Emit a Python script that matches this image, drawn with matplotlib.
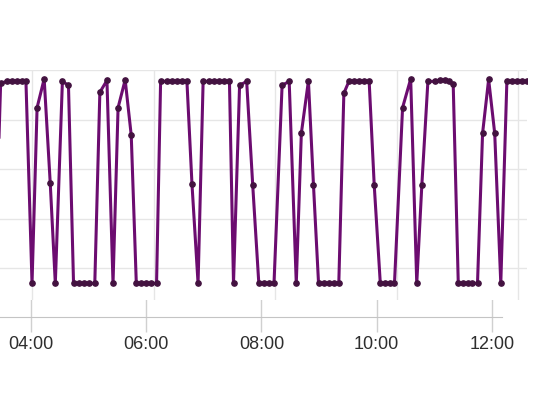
import matplotlib
matplotlib.use('Agg')
import numpy as np
from matplotlib import pyplot as plt

# readings (time of day, value)
times = ['03:23', '03:29', '03:35', '03:40', '03:45', '03:50', '03:54',
         '04:00', '04:05', '04:12', '04:18', '04:23', '04:30', '04:36',
         '04:41', '04:46', '04:51', '04:56', '05:02', '05:07', '05:14',
         '05:20', '05:25', '05:32', '05:38', '05:43', '05:48', '05:53',
         '05:58', '06:03', '06:07', '06:13', '06:18', '06:23', '06:28',
         '06:33', '06:38', '06:44', '06:49', '06:55', '07:00', '07:05',
         '07:10', '07:15', '07:19', '07:25', '07:32', '07:38', '07:44',
         '07:49', '07:54', '07:59', '08:07', '08:14', '08:21', '08:26',
         '08:33', '08:38', '08:43', '08:48', '08:53', '08:58', '09:03',
         '09:08', '09:13', '09:18', '09:23', '09:28', '09:33', '09:38',
         '09:44', '09:49', '09:54', '09:58', '10:06', '10:14', '10:20',
         '10:25', '10:31', '10:38', '10:43', '10:48', '10:52', '10:56',
         '11:01', '11:06', '11:11', '11:15', '11:20', '11:25', '11:31',
         '11:37', '11:43', '11:49', '11:54', '11:59', '12:04', '12:09']
values = [0.70, 4.73, 4.77, 4.77, 4.77, 4.77, 4.77,
          0.69, 4.24, 4.82, 2.71, 0.69, 4.77, 4.69,
          0.69, 0.69, 0.69, 0.69, 0.69, 4.55, 4.79,
          0.69, 4.24, 4.80, 3.68, 0.69, 0.69, 0.69,
          0.69, 0.69, 4.77, 4.77, 4.77, 4.77, 4.77,
          4.77, 2.69, 0.69, 4.77, 4.77, 4.77, 4.77,
          4.77, 4.77, 0.69, 4.69, 4.77, 2.67, 0.69,
          0.69, 0.69, 0.69, 4.69, 4.77, 0.69, 3.72,
          4.78, 2.67, 0.69, 0.69, 0.69, 0.69, 0.69,
          4.53, 4.77, 4.77, 4.77, 4.77, 4.77, 2.67,
          0.69, 0.69, 0.69, 0.69, 4.24, 4.82, 0.69,
          2.67, 4.77, 4.77, 4.79, 4.79, 4.77, 4.71,
          0.69, 0.69, 0.69, 0.69, 0.69, 3.72, 4.81,
          3.72, 0.69, 4.77, 4.77, 4.77, 4.77, 4.77]
tick_hours = [4, 6, 8, 10, 12]
tick_labels = ['04:00', '06:00', '08:00', '10:00', '12:00']

hours = np.array([int(t[:2]) + int(t[3:]) / 60 for t in times])

W, H = 550, 412
fig = plt.figure(figsize=(5.5, 4.12), dpi=100)

#plot area (graph panel)
ax = fig.add_axes([-10.5 / W, (H - 300) / H, 537.5 / W, 230 / H])
ax.set_xlim(3.3, 4 + (527 - 32) / 60.75)
ax.set_ylim(0.354, 5.0)
ax.set_xticks(tick_hours)
ax.set_yticks([1, 2, 3, 4, 5])
ax.grid(True, color='#e6e6e6', linewidth=1)
ax.tick_params(length=0, labelbottom=False, labelleft=False)
for s in ax.spines.values():
    s.set_visible(False)
ax.set_axisbelow(True)
ax.plot(hours, values, color='#6c0c70', linewidth=2.2, marker='o',
        markersize=3.8, markerfacecolor='#431240', markeredgecolor='#431240',
        solid_joinstyle='miter')

#x axis strip (slightly different scale, like the original)
ax2 = fig.add_axes([-20 / W, (H - 317) / H, 522 / W, 17 / H])
ax2.patch.set_alpha(0)
ax2.set_xlim(4 + (-20 - 31) / 57.6, 4 + (502 - 31) / 57.6)
ax2.set_ylim(0, 1)
ax2.set_xticks(tick_hours)
ax2.set_xticklabels(tick_labels, fontsize=13, color='#2e2e2e',
                    family=['Liberation Sans', 'DejaVu Sans'])
ax2.set_yticks([])
ax2.grid(True, axis='x', color='#d0d0d0', linewidth=1)
ax2.tick_params(axis='x', length=10.8, width=1, color='#d0d0d0', pad=3)
for k in ['top', 'left', 'right']:
    ax2.spines[k].set_visible(False)
ax2.spines['bottom'].set_color('#c4c4c4')

plt.savefig('out.png', dpi=100)
